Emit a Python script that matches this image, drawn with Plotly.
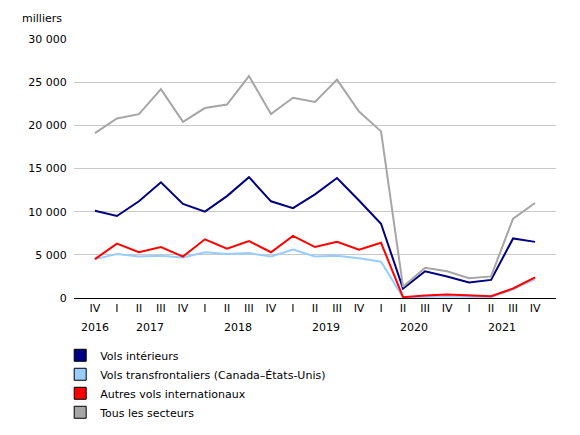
import plotly.graph_objects as go

quarters = ["IV","I","II","III","IV","I","II","III","IV","I","II","III","IV","I","II","III","IV","I","II","III","IV"]
years = ["2016","2017","2018","2019","2020","2021"]
year_pos = [0, 2.5, 6.5, 10.5, 14.5, 18.5]
total = [19100,20800,21300,24200,20400,22000,22400,25700,21300,23200,22700,25300,21600,19300,1300,3500,3100,2300,2500,9200,11000]
domestic = [10100,9500,11200,13400,10900,10000,11800,14000,11200,10400,12000,13900,11300,8600,1100,3100,2500,1800,2100,6900,6500]
transborder = [4500,5100,4800,4900,4700,5300,5100,5200,4800,5600,4800,4900,4600,4200,50,150,200,150,100,1000,2200]
other = [4500,6300,5300,5900,4800,6800,5700,6600,5300,7200,5900,6500,5600,6400,100,300,400,300,200,1100,2400]

x = list(range(len(quarters)))
fig = go.Figure()
series = [("Vols intérieurs", domestic, "#000080"),
          ("Vols transfrontaliers (Canada–États-Unis)", transborder, "#99ccff"),
          ("Autres vols internationaux", other, "#ff0000"),
          ("Tous les secteurs", total, "#a6a6a6")]
for name, y, c in series:
    fig.add_trace(go.Scatter(x=x, y=y, mode="lines", name=name, line=dict(color=c, width=2),
                             showlegend=False))
for name, y, c in series:
    fig.add_trace(go.Scatter(x=[None], y=[None], mode="markers", name=name,
                             marker=dict(symbol="square", size=12, color=c,
                                         line=dict(color="#000", width=1))))
for yr, p in zip(years, year_pos):
    fig.add_annotation(x=p, y=0, xref="x", yref="paper", yshift=-38, text=yr, showarrow=False,
                       font=dict(size=11, color="#000"))
fig.add_annotation(x=0, y=1, xref="paper", yref="paper", xanchor="right", yanchor="bottom",
                   xshift=-10, yshift=12, text="milliers", showarrow=False, font=dict(size=11))
fig.update_layout(
    width=580, height=435, plot_bgcolor="white", paper_bgcolor="white",
    font=dict(family="Verdana, DejaVu Sans", size=11, color="#000"),
    margin=dict(l=66, r=32, t=31, b=145, autoexpand=False),
    xaxis=dict(tickvals=x, ticktext=quarters, range=[-0.95, 20.95], showline=True, linecolor="#000",
               ticks="", showgrid=False, zeroline=False),
    yaxis=dict(range=[0, 30000], dtick=5000, tickformat=",d",
               gridcolor="#c8c8c8", showline=False, zeroline=False, ticks="outside",
               ticklen=4, tickcolor="#fff"),
    separators=", ",
    legend=dict(orientation="v", xref="container", yref="container", x=0.09, y=0.235,
                xanchor="left", yanchor="top", tracegroupgap=9, font=dict(size=11),
                itemwidth=30),
)
fig.write_html("out.html")
